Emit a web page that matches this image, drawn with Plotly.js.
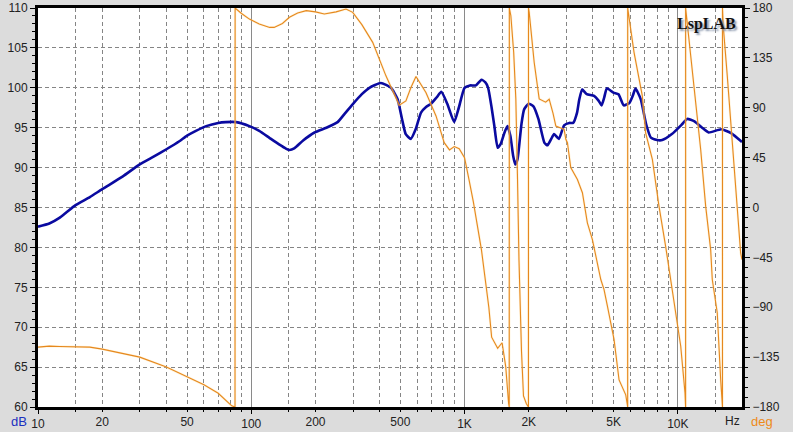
<!DOCTYPE html>
<html>
<head>
<meta charset="utf-8">
<script src="https://cdn.plot.ly/plotly-3.0.1.min.js"></script>
<style>html,body{margin:0;padding:0;background:#dcdcdc;}#chart{width:793px;height:432px;}</style>
</head>
<body>
<div id="chart"></div>
<script>
// Magnitude (dB) vs frequency (Hz)
const magFreq = [10,11.3,12.6,13.6,15,17.5,20,25,30,35,40,46,50,55,61.5,70,76,85,98,109,122,135,146,151,159,175,198,225,254,275,298,330,358,405,452,485,510,530,560,590,625,660,697,740,778,830,894,940,1000,1060,1130,1200,1250,1290,1340,1380,1430,1480,1540,1590,1640,1690,1730,1770,1800,1850,1903,2000,2100,2220,2370,2450,2550,2630,2770,2930,3100,3230,3370,3450,3560,3740,4050,4250,4390,4520,4650,4990,5270,5580,5930,6150,6330,6700,7110,7480,8000,8450,9380,10440,11060,11970,13000,13950,16000,17850,20000];
const magDb = [82.6,83.0,83.7,84.4,85.3,86.3,87.3,88.9,90.4,91.4,92.3,93.3,94.0,94.6,95.2,95.6,95.7,95.7,95.2,94.6,93.7,92.9,92.35,92.2,92.4,93.4,94.4,95.0,95.7,96.8,97.9,99.2,100.0,100.6,100.0,98.6,96.0,94.2,93.6,94.8,96.9,97.6,98.0,98.8,99.5,98.0,95.7,97.5,100.0,100.3,100.3,101.0,100.7,100.0,97.5,95.2,92.5,93.0,94.4,95.2,94.0,91.5,90.4,91.0,92.5,95.5,97.3,98.0,97.7,96.1,93.1,92.8,93.6,94.2,93.6,95.3,95.6,95.6,96.9,98.5,99.8,99.2,98.98,98.4,97.8,98.8,99.95,99.4,99.2,97.8,98.1,99.0,99.9,98.6,95.4,93.75,93.45,93.45,94.2,95.4,96.1,95.8,95.0,94.4,94.8,94.3,93.2];

// Phase (deg) vs frequency (Hz), wrapped to +/-180
const phaseFreq = [10,11.3,12.6,17.5,20,25,30,40,50,60,70,81,83.9,84,90,98,109,122,128,140,151,165,181,200,220,250,278,299,330,371,428,494,531,560,592,620,659,735,803,850,895,944,1000,1050,1100,1200,1300,1340,1430,1500,1560,1610,1620,1622,1649,1700,1740,1770,1800,1850,1890,1950,1994,1995,2010,2121,2239,2400,2494,2600,2680,2931,2985,3037,3148,3383,3570,3767,3977,4354,4510,4677,5023,5304,5700,5800,5820,5822,5862,6234,6818,7072,7598,8160,8770,9261,9772,10318,10807,10880,10882,11080,11700,12570,12800,13510,14260,14510,15310,15890,16060,16200,16202,16330,17060,17700,18000,19000,19710,20000];
const phaseDeg = [-126,-125.1,-125.4,-126,-127.8,-132,-135,-144,-152.6,-160,-167.6,-179,-180,180,175,170,165.5,162.5,162.5,166,171.6,175.5,177.6,176.5,174.6,176.5,179.1,176.1,165,149,118.8,92.3,96.2,108,118.2,112,103.7,82.6,58.5,52,55,53,45,25,5,-38,-90,-117,-127,-122,-143.5,-177,-180,180,173,140,98,30,-47,-130,-170,-177,-180,180,176,131,98,95,97.7,85,73.5,70.5,61.5,58.5,36,25.3,13.3,-13.8,-29,-65,-74,-89,-119,-155.6,-169,-178,-180,180,176,140,100.7,67,43.4,1.2,-35,-65,-92,-125,-167,-180,180,165.5,128,67.6,52.5,1.2,-38,-65,-95,-155.6,-167,-180,180,164,118.8,80,61.5,1.2,-41,-47];

// Axis ticks
const gridFreqs = [15,20,30,40,50,60,70,80,90,150,200,300,400,500,600,700,800,900,1500,2000,3000,4000,5000,6000,7000,8000,9000,15000];
const decadeFreqs = [10,100,1000,10000];
const decadeLabels = ['10','100','1K','10K'];
const minorLabelMap = {20:'20',50:'50',200:'200',500:'500',2000:'2K',5000:'5K'};
const dbTicks = [60,65,70,75,80,85,90,95,100,105,110];
const degTicks = [-180,-135,-90,-45,0,45,90,135,180];

const gridText = gridFreqs.map(f => minorLabelMap[f] || '');
const xr = [1, Math.log10(20000)];
const tickFont = {family:'Liberation Sans, Arial, sans-serif', size:12, color:'#222'};
const gridCol = '#858585';

const traces = [
  {x: phaseFreq, y: phaseDeg, xaxis:'x', yaxis:'y2', mode:'lines',
   line:{color:'rgba(255,220,150,0.35)', width:2.4}, hoverinfo:'skip', showlegend:false},
  {x: phaseFreq, y: phaseDeg, xaxis:'x', yaxis:'y2', mode:'lines',
   line:{color:'#e6881e', width:1.1}, showlegend:false},
  {x: magFreq, y: magDb, xaxis:'x', yaxis:'y', mode:'lines',
   line:{color:'#0a0aa0', width:2.6, shape:'spline', smoothing:0.5}, showlegend:false},
  {x: [], y: [], xaxis:'x2', yaxis:'y', mode:'lines', showlegend:false, hoverinfo:'skip'}
];

const layout = {
  width:793, height:432,
  paper_bgcolor:'#dcdcdc', plot_bgcolor:'#ffffff',
  margin:{l:38, r:51, t:8, b:25},
  showlegend:false,
  xaxis:{type:'log', range:xr, tickvals:decadeFreqs, ticktext:decadeLabels,
    showgrid:true, gridcolor:'#8a8a8a', gridwidth:1,
    ticks:'outside', ticklen:4, tickcolor:'#000', tickfont:tickFont,
    showline:true, linewidth:3, linecolor:'#000', mirror:true, zeroline:false},
  xaxis2:{type:'log', range:xr, overlaying:'x', anchor:'y', side:'bottom',
    tickvals:gridFreqs, ticktext:gridText,
    showgrid:true, gridcolor:gridCol, gridwidth:1, griddash:'4px,3px',
    ticks:'outside', ticklen:4, tickcolor:'#000', tickfont:tickFont,
    showline:false, zeroline:false},
  yaxis:{range:[60,110], tickvals:dbTicks, showgrid:true, gridcolor:gridCol, griddash:'4px,3px',
    ticks:'outside', ticklen:5, tickcolor:'#000', tickfont:tickFont,
    minor:{dtick:1, ticks:'outside', ticklen:3, tickcolor:'#000', showgrid:false},
    showline:true, linewidth:3, linecolor:'#000', mirror:true, zeroline:false},
  yaxis2:{range:[-180,180], overlaying:'y', side:'right', tickvals:degTicks,
    showgrid:false, ticks:'outside', ticklen:5, tickcolor:'#000', tickfont:tickFont,
    minor:{dtick:9, ticks:'outside', ticklen:3, tickcolor:'#000', showgrid:false},
    showline:true, linewidth:3, linecolor:'#000', zeroline:false},
  annotations:[
    {text:'LspLAB', xref:'paper', yref:'paper', x:1, y:1, xanchor:'right', yanchor:'top',
     xshift:-4, yshift:-5, showarrow:false,
     font:{family:'Liberation Serif, Times New Roman, serif', size:16, weight:'bold', color:'#111',
           shadow:'2px 2px 2px #8a97ad'}},
    {text:'dB', xref:'paper', yref:'paper', x:0, y:0, xanchor:'right', yanchor:'top',
     xshift:-9, yshift:-5, showarrow:false,
     font:{family:'Liberation Sans, Arial, sans-serif', size:13, color:'#1a2fc0'}},
    {text:'Hz', xref:'paper', yref:'paper', x:1, y:0, xanchor:'right', yanchor:'top',
     xshift:0, yshift:-5, showarrow:false,
     font:{family:'Liberation Sans, Arial, sans-serif', size:12, color:'#222'}},
    {text:'deg', xref:'paper', yref:'paper', x:1, y:0, xanchor:'left', yanchor:'top',
     xshift:7, yshift:-5, showarrow:false,
     font:{family:'Liberation Sans, Arial, sans-serif', size:13, color:'#ee8a1a'}}
  ]
};

Plotly.newPlot('chart', traces, layout, {displayModeBar:false, staticPlot:true});
</script>
</body>
</html>
